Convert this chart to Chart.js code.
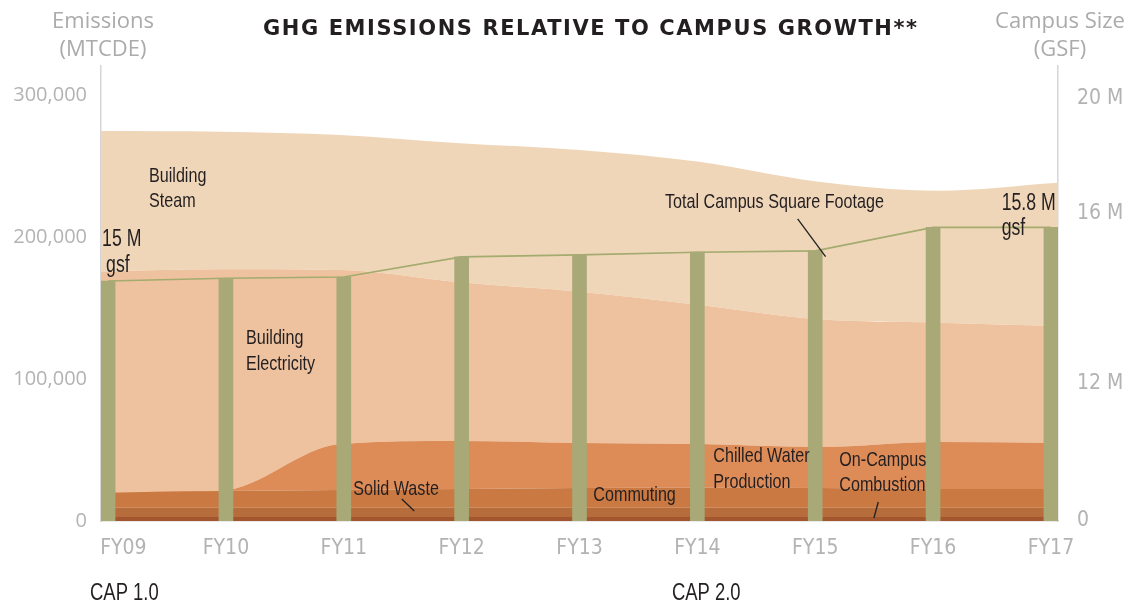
<!DOCTYPE html>
<html>
<head>
<meta charset="utf-8">
<script src="https://cdn.jsdelivr.net/npm/chart.js@4.4.0/dist/chart.umd.min.js"></script>
<style>
html,body{margin:0;padding:0;background:#ffffff;}
canvas{display:block;}
</style>
</head>
<body>
<canvas id="c" width="1133" height="605"></canvas>
<script>
// ---------------- data ----------------
const years = ['FY09','FY10','FY11','FY12','FY13','FY14','FY15','FY16','FY17'];
// emissions by source (MTCDE), bottom of stack first
const onCampusCombustion = [2800, 2800, 2800, 2800, 2800, 2800, 2800, 2800, 2800];
const solidWaste         = [6500, 6500, 6500, 6500, 6500, 6500, 6500, 6500, 6500];
const commuting          = [10600, 11800, 12500, 13200, 13900, 14100, 13900, 13200, 13200];
const chilledWater       = [0, 0, 32400, 33800, 31700, 30800, 28900, 33100, 32400];
const buildingElectricity= [155700, 156100, 122600, 111800, 106600, 97900, 89900, 84000, 82400];
const buildingSteam      = [99000, 96900, 95000, 97900, 99800, 100900, 96900, 93000, 100900];
// total campus square footage (millions of GSF)
const campusGSF = [15.0, 15.04, 15.06, 15.36, 15.39, 15.43, 15.45, 15.8, 15.8];
// tick labels
const emissionTicks = [0, 100000, 200000, 300000];
const gsfTicks = [0, 12, 16, 20];

// ---------------- styles ----------------
const COND = '"DejaVu Sans Condensed", "Liberation Sans Narrow", sans-serif';
const ANNO = '"Liberation Sans", Arial, sans-serif';
const AVENIR = '"Open Sans", Lato, sans-serif';
const TITLEFONT = '"DejaVu Sans", "Open Sans", sans-serif';
const GREY = '#b3b3b3';
const INK = '#231f20';

// piecewise (broken) right axis, like the infographic's campus-size axis
const gsfAxisStops = [[0, 0], [12, 0.3011], [15, 0.5275], [16, 0.6747], [20, 0.9275], [21.1, 1]];
class PiecewiseScale extends Chart.LinearScale {
  _toDec(v) {
    const s = gsfAxisStops;
    if (v <= s[0][0]) return s[0][1];
    for (let i = 1; i < s.length; i++) {
      if (v <= s[i][0]) {
        const t = (v - s[i-1][0]) / (s[i][0] - s[i-1][0]);
        return s[i-1][1] + t * (s[i][1] - s[i-1][1]);
      }
    }
    return s[s.length-1][1];
  }
  _fromDec(d) {
    const s = gsfAxisStops;
    for (let i = 1; i < s.length; i++) {
      if (d <= s[i][1]) {
        const t = (d - s[i-1][1]) / (s[i][1] - s[i-1][1]);
        return s[i-1][0] + t * (s[i][0] - s[i-1][0]);
      }
    }
    return s[s.length-1][0];
  }
  getPixelForValue(value) {
    if (value === null || value === undefined || isNaN(value)) return NaN;
    return this.getPixelForDecimal(this._toDec(value));
  }
  getValueForPixel(pixel) {
    return this._fromDec(this.getDecimalForPixel(pixel));
  }
}
PiecewiseScale.id = 'piecewise';
PiecewiseScale.defaults = Chart.LinearScale.defaults;
Chart.register(PiecewiseScale);

// text annotations in data coordinates (x: year index, y: MTCDE)
const notes = [
  {t:'Building', x:0.347, y:239000, size:21},
  {t:'Steam', x:0.347, y:220900, size:21},
  {t:'15 M', x:-0.051, y:193700, size:23},
  {t:'gsf', x:-0.017, y:175600, size:23},
  {t:'Building', x:1.170, y:124500, size:21},
  {t:'Electricity', x:1.170, y:106300, size:21},
  {t:'Total Campus Square Footage', x:4.725, y:220200, size:21},
  {t:'15.8 M', x:7.582, y:219000, size:23},
  {t:'gsf', x:7.582, y:201400, size:23},
  {t:'Solid Waste', x:2.081, y:18300, size:21},
  {t:'Commuting', x:4.117, y:14100, size:21},
  {t:'Chilled Water', x:5.135, y:41300, size:21},
  {t:'Production', x:5.135, y:23000, size:21},
  {t:'On-Campus', x:6.204, y:38900, size:21},
  {t:'Combustion', x:6.204, y:21300, size:21},
  {t:'CAP 1.0', x:-0.153, y:-55600, size:24},
  {t:'CAP 2.0', x:4.784, y:-55600, size:24}
];
const leaders = [
  [5.851, 212700, 6.088, 186100],
  [2.492, 15500, 2.598, 7000],
  [6.535, 13400, 6.498, 2100]
];

const textPlugin = {
  id: 'texts',
  afterDraw(chart) {
    const ctx = chart.ctx;
    const xs = chart.scales.x2, ys = chart.scales.y;
    ctx.save();
    ctx.textBaseline = 'alphabetic';
    // title
    ctx.fillStyle = INK;
    ctx.font = 'bold 21px ' + TITLEFONT;
    const title = 'GHG EMISSIONS RELATIVE TO CAMPUS GROWTH**';
    ctx.letterSpacing = '0px';
    const w0 = ctx.measureText(title).width;
    const ls = (654 - w0) / (title.length - 1);
    ctx.letterSpacing = ls + 'px';
    ctx.textAlign = 'left';
    ctx.fillText(title, 263, 35);
    ctx.letterSpacing = '0px';
    // axis titles
    ctx.fillStyle = '#ababab';
    ctx.font = '22px ' + AVENIR;
    ctx.textAlign = 'center';
    ctx.fillText('Emissions', 103, 28);
    ctx.fillText('(MTCDE)', 103, 56);
    ctx.fillText('Campus Size', 1060, 28);
    ctx.fillText('(GSF)', 1060, 56);
    // annotations: condensed lettering (horizontally compressed sans)
    ctx.font = '21px ' + ANNO;
    const k = 219 / ctx.measureText('Total Campus Square Footage').width;
    ctx.fillStyle = INK;
    ctx.textAlign = 'left';
    notes.forEach(n => {
      ctx.font = n.size + 'px ' + ANNO;
      ctx.save();
      ctx.translate(xs.getPixelForValue(n.x), ys.getPixelForValue(n.y));
      ctx.scale(k, 1);
      ctx.fillText(n.t, 0, 0);
      ctx.restore();
    });
    ctx.strokeStyle = INK;
    ctx.lineWidth = 1.3;
    leaders.forEach(l => {
      ctx.beginPath();
      ctx.moveTo(xs.getPixelForValue(l[0]), ys.getPixelForValue(l[1]));
      ctx.lineTo(xs.getPixelForValue(l[2]), ys.getPixelForValue(l[3]));
      ctx.stroke();
    });
    ctx.restore();
  }
};

function area(label, data, color, first) {
  return {
    type: 'line', label, data,
    xAxisID: 'x', yAxisID: 'y',
    backgroundColor: color, borderColor: color, borderWidth: 0,
    pointRadius: 0, fill: first ? 'start' : '-1',
    cubicInterpolationMode: 'monotone', order: 10
  };
}

const noGrid = {display: false, drawTicks: false, tickLength: 0};

new Chart(document.getElementById('c'), {
  type: 'line',
  data: {
    labels: years,
    datasets: [
      area('On-Campus Combustion', onCampusCombustion, '#a3562e', true),
      area('Solid Waste', solidWaste, '#b66c3b', false),
      area('Commuting', commuting, '#c97941', false),
      area('Chilled Water Production', chilledWater, '#dd8c57', false),
      area('Building Electricity', buildingElectricity, '#eec29f', false),
      area('Building Steam', buildingSteam, '#f0d6b9', false),
      {
        type: 'line', label: 'Total Campus Square Footage',
        data: campusGSF.map((v, i) => ({x: i, y: v})),
        xAxisID: 'x2', yAxisID: 'y2',
        borderColor: '#a3ab6e', borderWidth: 1.6, pointRadius: 0, fill: false, tension: 0, order: 2
      },
      {
        type: 'bar', label: 'Campus Size',
        data: campusGSF.map((v, i) => ({x: i, y: v})),
        xAxisID: 'x2', yAxisID: 'y2', grouped: false,
        backgroundColor: '#a8a977', borderWidth: 0, barThickness: 14, order: 1
      }
    ]
  },
  options: {
    responsive: false,
    devicePixelRatio: 1,
    animation: false,
    layout: {padding: {top: 66, left: 0, right: 0, bottom: 0}},
    plugins: {legend: {display: false}, tooltip: {enabled: false}, title: {display: false}},
    scales: {
      x: {type: 'category', display: false, offset: false},
      x2: {
        type: 'linear', position: 'bottom', min: -0.06, max: 8.06, offset: false,
        grid: noGrid,
        border: {display: true, color: '#d6d6d6', width: 1.5},
        // first label sits flush with the axis, as in the original
        afterBuildTicks: s => { s.ticks = years.map((_, i) => ({value: i === 0 ? 0.13 : i})); },
        afterFit: s => { s.height = 84; },
        ticks: {
          padding: 15, color: GREY, maxRotation: 0, autoSkip: false,
          font: {family: COND, size: 21},
          callback: v => years[Math.round(v)]
        }
      },
      y: {
        type: 'linear', position: 'left', stacked: true, min: 0, max: 320400,
        grid: noGrid,
        border: {display: true, color: '#d6d6d6', width: 1.5},
        afterBuildTicks: s => { s.ticks = emissionTicks.map(v => ({value: v})); },
        afterFit: s => { s.width = 101; },
        ticks: {
          padding: 14, color: GREY,
          font: {family: AVENIR, size: 20},
          callback: v => v.toLocaleString('en-US')
        }
      },
      y2: {
        type: 'piecewise', position: 'right', min: 0, max: 21.1,
        grid: noGrid,
        border: {display: true, color: '#d6d6d6', width: 1.5},
        afterBuildTicks: s => { s.ticks = gsfTicks.map(v => ({value: v})); },
        afterFit: s => { s.width = 75; },
        ticks: {
          padding: 19, color: GREY,
          font: {family: COND, size: 21},
          callback: v => v === 0 ? '0' : v + ' M'
        }
      }
    }
  },
  plugins: [textPlugin]
});
</script>
</body>
</html>
